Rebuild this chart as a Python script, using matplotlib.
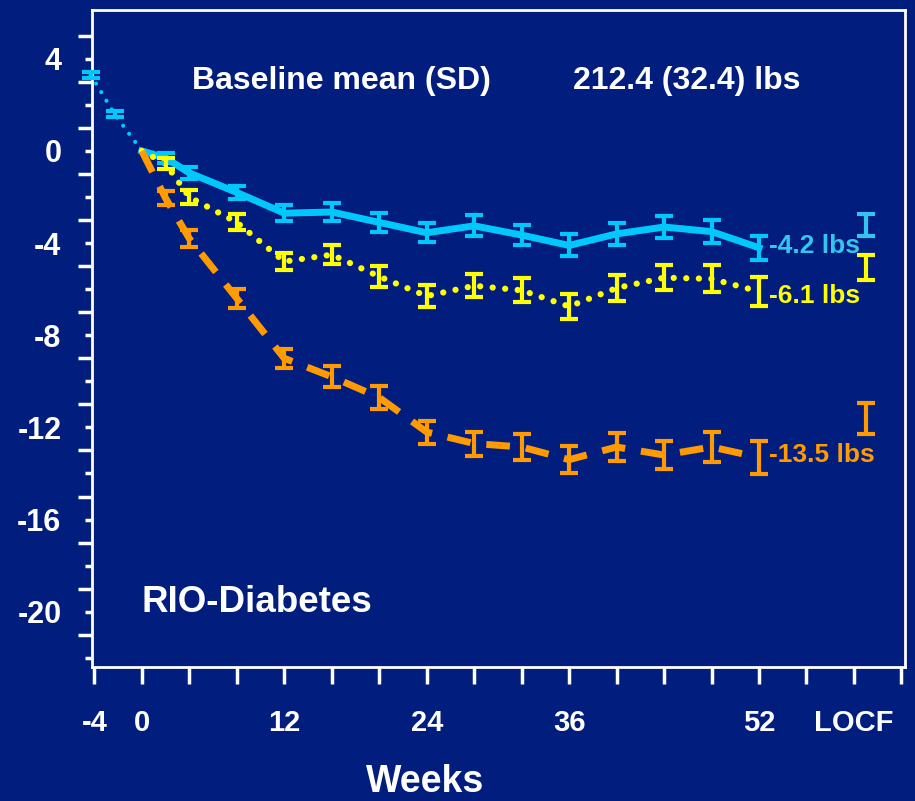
import matplotlib
matplotlib.use("Agg")
from matplotlib import pyplot as plt
from matplotlib.ticker import FixedLocator, FuncFormatter

plt.rcParams['font.family'] = ['Liberation Sans', 'DejaVu Sans']
plt.rcParams['font.weight'] = 'bold'

# data (weeks, change in weight in lbs)
weeks = [2, 4, 8, 12, 16, 20, 24, 28, 32, 36, 40, 44, 48, 52]
run_in_weeks = [-4.3, -2.3, 0]
run_in_vals = [3.3, 1.6, 0.0]
run_in_err = [0.15, 0.12, 0.0]

placebo = [-0.3, -0.95, -1.8, -2.7, -2.65, -3.1, -3.55, -3.25, -3.65, -4.1, -3.6, -3.3, -3.5, -4.2]
placebo_err = [0.2, 0.25, 0.3, 0.35, 0.38, 0.4, 0.42, 0.45, 0.45, 0.48, 0.48, 0.48, 0.5, 0.52]
rimo5 = [-0.55, -2.0, -3.1, -4.8, -4.5, -5.45, -6.3, -5.85, -6.05, -6.75, -5.95, -5.5, -5.55, -6.1]
rimo5_err = [0.25, 0.3, 0.35, 0.38, 0.4, 0.45, 0.48, 0.5, 0.52, 0.55, 0.55, 0.55, 0.58, 0.62]
rimo20 = [-2.05, -3.8, -6.4, -9.0, -9.8, -10.7, -12.2, -12.7, -12.85, -13.4, -12.85, -13.2, -12.85, -13.3]
rimo20_err = [0.3, 0.35, 0.4, 0.42, 0.45, 0.48, 0.5, 0.52, 0.55, 0.6, 0.6, 0.62, 0.65, 0.72]

locf_week = 61
locf_vals = [-3.2, -5.05, -11.6]
locf_err = [0.47, 0.55, 0.67]
end_labels = ['-4.2 lbs', '-6.1 lbs', '-13.5 lbs']

xtick_pos = [-4, 0, 12, 24, 36, 52, 60]
xtick_lab = ['-4', '0', '12', '24', '36', '52', 'LOCF']

bg = '#011e7f'
cyan = '#00c8fb'
cyan2 = '#33c4f0'
yellow = '#ffff00'
orange = '#ff9a00'

fig = plt.figure(figsize=(9.15, 8.01), dpi=100, facecolor=bg)
ax = fig.add_axes([92/915, 1-667/801, (905-92)/915, (667-10)/801])
ax.set_facecolor(bg)
ax.set_xlim(-4.2, 64.3)
ax.set_ylim(-22.4, 6.12)
ax.set_clip_on(False)

for s in ax.spines.values():
    s.set_color('white')
    s.set_linewidth(2)

eb = dict(fmt='none', elinewidth=3, capsize=6.5, capthick=3, zorder=4)

# run-in period (dotted)
ax.plot(run_in_weeks, run_in_vals, color=cyan, lw=3, linestyle=(0, (0.01, 2.4)),
        dash_capstyle='round', zorder=3, clip_on=False)
e0 = ax.errorbar(run_in_weeks[:2], run_in_vals[:2], yerr=run_in_err[:2], ecolor=cyan, **eb)
for a in e0.lines[1] + e0.lines[2]:
    a.set_clip_on(False)

# placebo
ax.plot([0] + weeks, [0] + placebo, color=cyan, lw=5, zorder=3)
ax.errorbar(weeks, placebo, yerr=placebo_err, ecolor=cyan, **eb)

# rimonabant 5 mg
ax.plot([0] + weeks, [0] + rimo5, color=yellow, lw=4.5, linestyle=(0, (0.01, 2.0)),
        dash_capstyle='round', zorder=3)
ax.errorbar(weeks, rimo5, yerr=rimo5_err, ecolor=yellow, **eb)

# rimonabant 20 mg
ax.plot([0] + weeks, [0] + rimo20, color=orange, lw=5, linestyle=(0, (3.4, 2.3)), zorder=3)
ax.errorbar(weeks, rimo20, yerr=rimo20_err, ecolor=orange, **eb)

# LOCF
for v, e, c in zip(locf_vals, locf_err, [cyan2, yellow, orange]):
    ax.errorbar([locf_week], [v], yerr=[e], ecolor=c, **eb)

# end labels
label_y = [-4.12, -6.3, -13.2]
for t, y, c in zip(end_labels, label_y, [cyan2, yellow, orange]):
    ax.text(52.8, y, t, color=c, fontsize=19, fontweight='bold', va='center', ha='left')

ax.text(4.2, 3.05, 'Baseline mean (SD)', color='white', fontsize=23, fontweight='bold', va='center')
ax.text(36.3, 3.05, '212.4 (32.4) lbs', color='white', fontsize=23, fontweight='bold', va='center')
ax.text(0.0, -19.6, 'RIO-Diabetes', color='white', fontsize=26.5, fontweight='bold', va='center')

# y ticks: short at even values, long at odd values
ax.yaxis.set_major_locator(FixedLocator(list(range(-22, 6, 2))))
ax.yaxis.set_minor_locator(FixedLocator(list(range(-21, 6, 2))))
ax.yaxis.set_major_formatter(FuncFormatter(lambda v, p: '%d' % v if int(v) % 4 == 0 else ''))
ax.tick_params(axis='y', which='major', length=5, width=2.5, color='white',
               labelcolor='white', labelsize=22, pad=17)
ax.tick_params(axis='y', which='minor', length=10, width=2.5, color='white')

# x ticks every 4 weeks
ax.xaxis.set_major_locator(FixedLocator(list(range(-4, 65, 4))))
ax.xaxis.set_major_formatter(FuncFormatter(
    lambda v, p: xtick_lab[xtick_pos.index(int(round(v)))] if int(round(v)) in xtick_pos else ''))
ax.tick_params(axis='x', length=12, width=2.5, color='white', labelcolor='white',
               labelsize=21, pad=18)
for lab in ax.get_xticklabels() + ax.get_yticklabels():
    lab.set_fontweight('bold')

fig.text(425/915, 1-782/801, 'Weeks', color='white', fontsize=27, fontweight='bold',
         ha='center', va='center')

fig.savefig('out.png', dpi=100, facecolor=bg)
